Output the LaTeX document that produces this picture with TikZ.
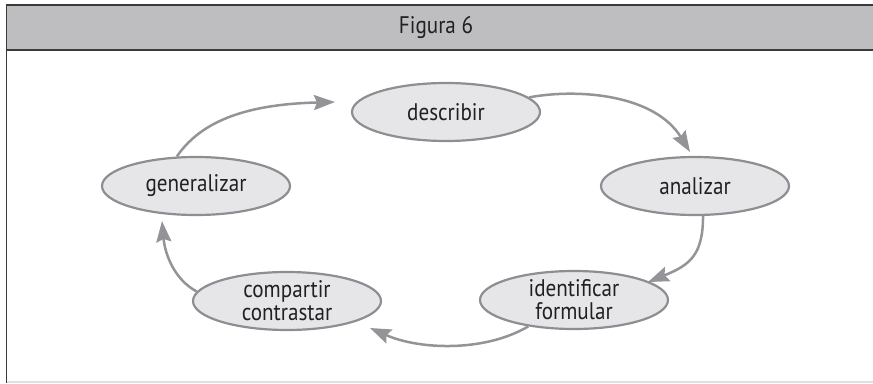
\documentclass[tikz,border=0pt]{standalone}
\usepackage{fontspec}
\setmainfont{PT Sans}[FakeStretch=0.88]
\usetikzlibrary{arrows.meta,shapes.geometric}
\definecolor{hdrfill}{HTML}{BEBEC1}
\definecolor{hdrline}{HTML}{3A3A3C}
\definecolor{ellfill}{HTML}{E6E6E8}
\definecolor{ellline}{HTML}{8E8E92}
\definecolor{arrcol}{HTML}{949498}
\definecolor{txtcol}{HTML}{202020}
\begin{document}
\begin{tikzpicture}[x=1pt,y=-1pt,
  stage/.style={ellipse,draw=ellline,fill=ellfill,line width=2.2pt,
    minimum width=188pt,minimum height=58pt,inner sep=0pt,
    text=txtcol,align=center,font=\fontsize{24}{23}\selectfont},
  flow/.style={draw=arrcol,line width=2.5pt,
    -{Stealth[length=21pt,width=15pt,inset=3pt]}}]
\useasboundingbox (0,0) rectangle (873,383);
% frame
\fill[hdrfill] (6.5,5) rectangle (873,49.5);
\draw[hdrline,line width=1.5pt] (6.5,5) -- (873,5);
\draw[hdrline,line width=2pt] (6.5,49.5) -- (873,49.5);
\draw[hdrline,line width=1.8pt] (6.5,4.3) -- (6.5,382.5);
\draw[black!12,line width=1.2pt] (6.5,382) -- (873,382);
\node[text=txtcol,font=\fontsize{24}{24}\selectfont] (title) at (436,27) {Figura 6};
% stages
\node[stage] (desc) at (446,112) {describir};
\node[stage] (ana) at (695,186) {analizar};
\node[stage] (iden) at (574,300) {identificar\\formular};
\node[stage] (comp) at (287,301) {compartir\\contrastar};
\node[stage] (gen) at (196,186) {generalizar};
% arrow tips
\coordinate (t1) at (335,102);
\coordinate (t2) at (690,152);
\coordinate (t3) at (648,282);
\coordinate (t4) at (370,328);
\coordinate (t5) at (162,221);
% connectors
\draw[flow] (gen.123) .. controls (205,115) and (260,104) .. (t1);
\draw[flow] (desc.10) .. controls (580,88) and (655,95) .. (t2);
\draw[flow] (ana.-75) .. controls (703,255) and (690,265) .. (t3);
\draw[flow] (iden.210) .. controls (485,352) and (420,350) .. (t4);
\draw[flow] (comp.174) .. controls (175,280) and (165,255) .. (t5);
\end{tikzpicture}
\end{document}
